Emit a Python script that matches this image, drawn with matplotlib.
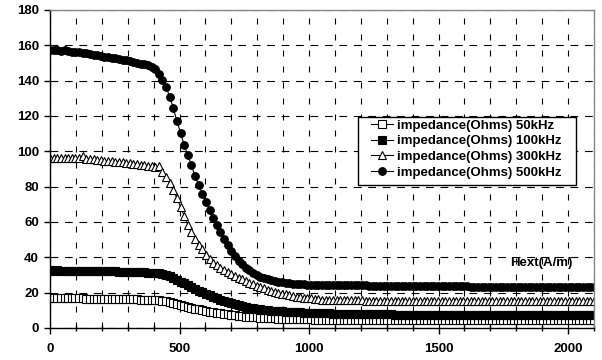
import numpy as np
import matplotlib
matplotlib.use("Agg")
import matplotlib.pyplot as plt
from matplotlib.ticker import MultipleLocator
from matplotlib.patches import Rectangle

plt.rcParams['font.family'] = ['Liberation Sans', 'DejaVu Sans']

# Hext (A/m), sampled every 14 A/m from 0 to 2100
hext = np.arange(0, 2101, 14)

z_50k = [16.9,16.8,16.9,16.8,16.8,16.8,16.7,16.7,16.7,16.7,
         16.6,16.6,16.6,16.5,16.5,16.5,16.5,16.4,16.4,16.4,
         16.3,16.3,16.3,16.2,16.2,16.1,16.1,16.0,15.9,15.8,
         15.7,15.5,15.2,14.8,14.2,13.6,13.0,12.4,11.9,11.4,
         10.9,10.5,10.1,9.7,9.3,9.0,8.6,8.3,8.0,7.7,
         7.4,7.2,6.9,6.7,6.5,6.3,6.1,6.0,5.8,5.7,
         5.6,5.5,5.4,5.3,5.2,5.1,5.1,5.0,5.0,4.9,
         4.9,4.9,4.9,4.8,4.8,4.8,4.8,4.8,4.8,4.7,
         4.7,4.7,4.7,4.7,4.7,4.7,4.7,4.6,4.6,4.6,
         4.6,4.6,4.6,4.6,4.6,4.6,4.6,4.6,4.6,4.6,
         4.6,4.6,4.6,4.5,4.5,4.5,4.5,4.5,4.5,4.5,
         4.5,4.5,4.5,4.5,4.5,4.5,4.5,4.5,4.5,4.5,
         4.5,4.5,4.5,4.5,4.5,4.5,4.5,4.5,4.5,4.5,
         4.5,4.5,4.5,4.5,4.5,4.5,4.5,4.5,4.5,4.5,
         4.5,4.5,4.5,4.5,4.5,4.5,4.5,4.5,4.5,4.5,4.5]

z_100k = [32.6,32.5,32.6,32.5,32.5,32.4,32.4,32.4,32.3,32.3,
          32.3,32.2,32.2,32.2,32.1,32.1,32.0,32.0,32.0,31.9,
          31.9,31.8,31.8,31.7,31.7,31.6,31.5,31.4,31.3,31.1,
          30.9,30.6,30.1,29.4,28.5,27.4,26.3,25.2,24.2,23.2,
          22.2,21.2,20.3,19.4,18.5,17.7,16.9,16.1,15.4,14.7,
          14.1,13.5,12.9,12.4,11.9,11.5,11.1,10.8,10.6,10.3,
          10.1,9.9,9.7,9.5,9.4,9.3,9.2,9.0,8.9,8.8,
          8.7,8.6,8.5,8.5,8.4,8.4,8.3,8.3,8.2,8.2,
          8.1,8.1,8.0,8.0,8.0,7.9,7.9,7.9,7.8,7.8,
          7.8,7.7,7.7,7.7,7.7,7.6,7.6,7.6,7.6,7.6,
          7.5,7.5,7.5,7.5,7.5,7.5,7.5,7.4,7.4,7.4,
          7.4,7.4,7.4,7.4,7.4,7.4,7.4,7.3,7.3,7.3,
          7.3,7.3,7.3,7.3,7.3,7.3,7.3,7.3,7.3,7.3,
          7.3,7.3,7.3,7.3,7.3,7.3,7.3,7.3,7.3,7.3,
          7.3,7.3,7.3,7.3,7.3,7.3,7.3,7.3,7.3,7.3,7.3]

z_300k = [96.5,96.3,96.5,96.2,96.4,96.0,96.2,96.0,96.5,97.5,
          95.8,95.5,95.4,95.2,95.0,94.8,94.6,94.4,94.2,94.0,
          93.8,93.5,93.3,93.0,92.8,92.5,92.2,91.9,91.5,91.0,
          91.5,88.5,85.5,82.0,78.0,73.5,68.5,63.5,58.5,54.5,
          50.5,47.0,44.5,41.5,39.2,37.0,35.5,34.2,33.0,31.8,
          30.6,29.5,28.5,27.5,26.5,25.6,24.7,23.9,23.1,22.4,
          21.7,21.1,20.5,20.0,19.5,19.0,18.6,18.2,17.8,17.5,
          17.2,16.9,16.7,16.5,16.3,16.1,16.0,15.9,15.8,15.8,
          15.7,15.7,15.7,15.6,15.6,15.6,15.6,15.5,15.5,15.5,
          15.5,15.5,15.5,15.4,15.4,15.4,15.4,15.4,15.4,15.4,
          15.4,15.3,15.3,15.3,15.3,15.3,15.3,15.3,15.3,15.3,
          15.3,15.3,15.3,15.3,15.3,15.3,15.2,15.2,15.2,15.2,
          15.2,15.2,15.2,15.2,15.2,15.2,15.2,15.2,15.2,15.2,
          15.2,15.2,15.2,15.2,15.2,15.2,15.2,15.2,15.2,15.2,
          15.2,15.2,15.2,15.2,15.2,15.2,15.2,15.2,15.2,15.2,15.2]

z_500k = [157.5,157.2,157.6,157.0,157.3,156.6,156.4,156.2,156.3,155.9,
          155.5,155.0,154.8,154.3,154.0,153.6,153.4,153.0,152.6,152.3,
          151.8,151.5,151.0,150.6,150.2,149.7,149.2,148.7,148.0,146.5,
          144.0,140.5,136.5,131.0,124.5,117.0,110.5,103.5,98.0,92.0,
          86.0,81.0,76.0,71.5,67.0,62.5,58.5,54.5,50.5,47.0,
          43.5,40.5,38.0,36.0,34.2,32.6,31.2,30.0,29.0,28.2,
          27.5,27.0,26.5,26.1,25.8,25.5,25.3,25.1,24.9,24.8,
          24.7,24.6,24.6,24.5,24.5,24.5,24.4,24.4,24.4,24.3,
          24.3,24.3,24.2,24.2,24.2,24.1,24.1,24.1,24.0,24.0,
          24.0,24.0,23.9,23.9,23.9,23.9,23.8,23.8,23.8,23.8,
          23.7,23.7,23.7,23.7,23.7,23.6,23.6,23.6,23.6,23.6,
          23.5,23.5,23.5,23.5,23.5,23.5,23.4,23.4,23.4,23.4,
          23.4,23.4,23.4,23.3,23.3,23.3,23.3,23.3,23.3,23.3,
          23.3,23.3,23.2,23.2,23.2,23.2,23.2,23.2,23.2,23.2,
          23.2,23.2,23.2,23.2,23.2,23.2,23.2,23.2,23.2,23.2,23.2]

labels = ["impedance(Ohms) 50kHz", "impedance(Ohms) 100kHz",
          "impedance(Ohms) 300kHz", "impedance(Ohms) 500kHz"]

FS = 9.5

fig = plt.figure(figsize=(6.02, 3.6), dpi=100)
ax = fig.add_axes([50/602, 1 - 328/360, 544/602, 318/360])

ax.plot(hext, z_50k, color='black', lw=0.8, marker='s', ms=5.3,
        mfc='white', mec='black', mew=0.8, label=labels[0], zorder=3)
ax.plot(hext, z_100k, color='black', lw=0.8, marker='s', ms=5.3,
        mfc='black', mec='black', mew=0.8, label=labels[1], zorder=3)
ax.plot(hext, z_300k, color='black', lw=0.8, marker='^', ms=5.8,
        mfc='white', mec='black', mew=0.8, label=labels[2], zorder=3)
ax.plot(hext, z_500k, color='black', lw=0.8, marker='o', ms=5.5,
        mfc='black', mec='black', mew=0.8, label=labels[3], zorder=3)

ax.set_xlim(0, 2100)
ax.set_ylim(0, 180)
ax.xaxis.set_major_locator(MultipleLocator(500))
ax.xaxis.set_minor_locator(MultipleLocator(100))
ax.yaxis.set_major_locator(MultipleLocator(20))

ax.grid(which='minor', axis='x', color='black', lw=0.8, ls=(0, (5.4, 9)))
ax.grid(which='major', axis='x', color='black', lw=0.8, ls=(0, (5.4, 9)))
ax.grid(which='major', axis='y', color='black', lw=0.8, ls=(0, (7, 6)))
ax.set_axisbelow(True)

for s in ['left', 'bottom']:
    ax.spines[s].set_color('black')
    ax.spines[s].set_linewidth(1.0)
for s in ['top', 'right']:
    ax.spines[s].set_color('#888888')
    ax.spines[s].set_linewidth(1.0)
for s in ax.spines.values():
    s.set_zorder(4)

ax.tick_params(axis='x', which='major', direction='out', length=4, width=1,
               pad=7, labelsize=FS)
ax.tick_params(axis='x', which='minor', direction='inout', length=4, width=1)
ax.tick_params(axis='y', which='major', direction='out', length=4, width=1,
               pad=4, labelsize=FS)
for lab in ax.get_xticklabels() + ax.get_yticklabels():
    lab.set_fontweight('bold')

ax.text(1776, 36.8, "Hext(A/m)", fontsize=FS, fontweight='bold',
        ha='left', va='center', zorder=5)

# legend frame drawn as a figure-pixel rectangle
W, H = 602, 360
frame = Rectangle((358/W, 1 - 185/H), (576 - 358)/W, (185 - 117)/H,
                  transform=fig.transFigure, facecolor='white',
                  edgecolor='black', lw=1.0, zorder=6)
ax.add_artist(frame)
frame.set_clip_on(False)

leg = ax.legend(loc='upper left', bbox_to_anchor=(371/W, 1 - 119.5/H),
                bbox_transform=fig.transFigure, borderaxespad=0,
                prop={'weight': 'bold', 'size': FS}, frameon=False,
                numpoints=1, handlelength=1.7, handletextpad=0.25,
                labelspacing=0.26, borderpad=0)
leg.set_zorder(7)

fig.savefig("out.png", dpi=100)
